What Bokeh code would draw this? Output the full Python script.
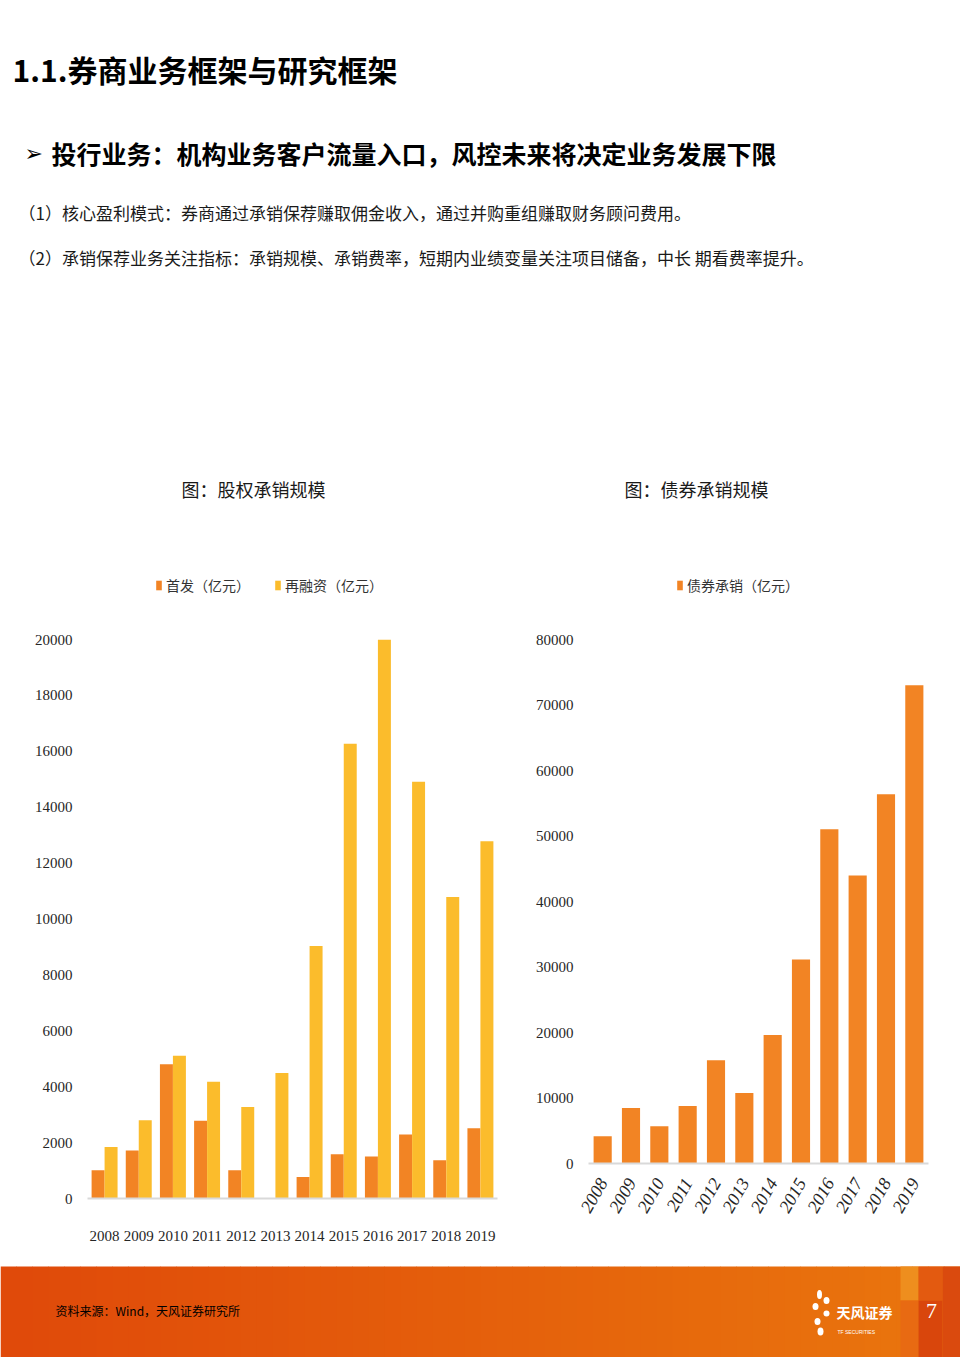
import numpy as np
from bokeh.plotting import figure
from bokeh.models import ColumnDataSource, Range1d, FactorRange, FixedTicker, Legend
from bokeh.transform import dodge
from bokeh.layouts import column, row
from bokeh.embed import file_html
from bokeh.resources import INLINE
from bokeh.core.properties import value

# ---------------- data ----------------
years = ["2008", "2009", "2010", "2011", "2012", "2013",
         "2014", "2015", "2016", "2017", "2018", "2019"]
ipo = [1010, 1720, 4805, 2785, 1010, 0, 765, 1584, 1500, 2293, 1365, 2512]          # 首发（亿元）
refinance = [1843, 2800, 5106, 4177, 3276, 4491, 9038, 16273, 19994, 14908, 10785, 12778]  # 再融资（亿元）
bond = [4174, 8474, 5670, 8785, 15763, 10779, 19626, 31153, 51028, 43988, 56386, 73022]   # 债券承销（亿元）

equity_ticks = [0, 2000, 4000, 6000, 8000, 10000, 12000, 14000, 16000, 18000, 20000]
bond_ticks = [0, 10000, 20000, 30000, 40000, 50000, 60000, 70000, 80000]

page_title = "1.1.券商业务框架与研究框架"
subtitle = "投行业务：机构业务客户流量入口，风控未来将决定业务发展下限"
line1 = "（1）核心盈利模式：券商通过承销保荐赚取佣金收入，通过并购重组赚取财务顾问费用。"
line2 = "（2）承销保荐业务关注指标：承销规模、承销费率，短期内业绩变量关注项目储备，中长 期看费率提升。"
chart1_title = "图：股权承销规模"
chart2_title = "图：债券承销规模"
legend_ipo = "首发（亿元）"
legend_refi = "再融资（亿元）"
legend_bond = "债券承销（亿元）"
source_note = "资料来源：Wind，天风证券研究所"

ORANGE = "#F28424"
YELLOW = "#FBBC2C"
AXIS_GRAY = "#D9D9D9"
LABEL = "#262626"
CJK = value("Noto Sans CJK SC")
SERIF = "Liberation Serif"

# page layout (pixels)
HEAD_H = 540
ROW_H = 722
FOOT_H = 95
LEFT_W = 527
RIGHT_W = 433


def blank(width, height, x0, x1, y_top, y_bottom):
    p = figure(width=width, height=height, x_range=Range1d(x0, x1),
               y_range=Range1d(y_bottom, y_top), output_backend="svg",
               toolbar_location=None, title=None,
               x_axis_location=None, y_axis_location=None,
               min_border=0)
    p.grid.visible = False
    p.outline_line_color = None
    p.frame_align = False
    return p


# ---------------- header (page y 0..540) ----------------
head = blank(960, HEAD_H, 0, 960, 0, HEAD_H)
head.text(x=[12], y=[68], text=[page_title], text_font=CJK, text_font_style="bold",
          text_font_size="30px", text_baseline="middle", text_color="#000000")
head.text(x=[24], y=[153], text=["➢"], text_font=value("DejaVu Sans"),
          text_font_size="22px", text_baseline="middle", text_color="#000000")
head.text(x=[51], y=[152], text=[subtitle], text_font=CJK, text_font_style="bold",
          text_font_size="25px", text_baseline="middle", text_color="#000000")
head.text(x=[18], y=[212], text=[line1], text_font=CJK, text_font_size="17px",
          text_baseline="middle", text_color="#1a1a1a")
head.text(x=[18], y=[257], text=[line2], text_font=CJK, text_font_size="17px",
          text_baseline="middle", text_color="#1a1a1a")
head.text(x=[253, 696], y=[488, 488], text=[chart1_title, chart2_title], text_font=CJK,
          text_font_size="18px", text_align="center", text_baseline="middle",
          text_color="#1a1a1a")


def style_axes(p, rotate=False):
    p.grid.visible = False
    p.outline_line_color = None
    p.frame_align = False
    p.yaxis.axis_line_color = None
    p.yaxis.major_tick_line_color = None
    p.yaxis.minor_tick_line_color = None
    p.yaxis.major_label_text_font = SERIF
    p.yaxis.major_label_text_font_size = "15px"
    p.yaxis.major_label_text_color = LABEL
    p.yaxis.major_label_standoff = 9
    p.xaxis.axis_line_color = AXIS_GRAY
    p.xaxis.axis_line_width = 2
    p.xaxis.major_tick_line_color = None
    p.xaxis.minor_tick_line_color = None
    p.xaxis.major_label_text_font = SERIF
    p.xaxis.major_label_text_color = LABEL
    if rotate:
        p.xaxis.major_label_orientation = np.pi / 3
        p.xaxis.major_label_text_font_style = "italic"
        p.xaxis.major_label_text_font_size = "18px"
        p.xaxis.major_label_standoff = 10
    else:
        p.xaxis.major_label_text_font_size = "15px"
        p.xaxis.major_label_standoff = 26


def make_legend(items, vx, vy):
    return Legend(items=items, orientation="horizontal", location=(vx, vy),
                  padding=0, margin=0, spacing=24, label_standoff=4,
                  glyph_width=7, glyph_height=12,
                  border_line_color=None, background_fill_alpha=0,
                  label_text_font="Noto Sans CJK SC", label_text_font_size="14px",
                  label_text_color="#333333", label_height=17)


FRAME_TOP = 560          # page y of frame top (legend sits inside frame, above bars)

# ---------------- left chart: 股权承销规模 ----------------
L_LEFT, L_RIGHT, L_Y0, L_YMAX = 87, 497, 1198, 639   # page px of axis 0 / 20000
eq_top = 20000 * (L_Y0 - FRAME_TOP) / (L_Y0 - L_YMAX)
src1 = ColumnDataSource(dict(year=years, ipo=ipo, refi=refinance))
p1 = figure(width=LEFT_W, height=ROW_H, x_range=FactorRange(factors=years),
            y_range=Range1d(0, eq_top), output_backend="svg",
            toolbar_location=None, title=None,
            min_border_left=L_LEFT, min_border_right=LEFT_W - L_RIGHT,
            min_border_top=FRAME_TOP - HEAD_H,
            min_border_bottom=HEAD_H + ROW_H - L_Y0)
r1 = p1.vbar(x=dodge("year", -0.19, range=p1.x_range), top="ipo", width=0.38,
             source=src1, fill_color=ORANGE, line_color=None)
r2 = p1.vbar(x=dodge("year", 0.19, range=p1.x_range), top="refi", width=0.38,
             source=src1, fill_color=YELLOW, line_color=None)
p1.yaxis.ticker = FixedTicker(ticks=equity_ticks)
style_axes(p1)
p1.add_layout(make_legend([(legend_ipo, [r1]), (legend_refi, [r2])],
                          155 - L_LEFT, L_Y0 - 578 - 17))

# ---------------- right chart: 债券承销规模 ----------------
R_LEFT, R_RIGHT, R_Y0, R_YMAX = 588, 928, 1163, 639  # page px of axis 0 / 80000
bd_top = 80000 * (R_Y0 - FRAME_TOP) / (R_Y0 - R_YMAX)
src2 = ColumnDataSource(dict(year=years, bond=bond))
p2 = figure(width=RIGHT_W, height=ROW_H, x_range=FactorRange(factors=years),
            y_range=Range1d(0, bd_top), output_backend="svg",
            toolbar_location=None, title=None,
            min_border_left=R_LEFT - LEFT_W, min_border_right=LEFT_W + RIGHT_W - R_RIGHT,
            min_border_top=FRAME_TOP - HEAD_H,
            min_border_bottom=HEAD_H + ROW_H - R_Y0)
r3 = p2.vbar(x="year", top="bond", width=0.64, source=src2,
             fill_color=ORANGE, line_color=None)
p2.yaxis.ticker = FixedTicker(ticks=bond_ticks)
style_axes(p2, rotate=True)
p2.add_layout(make_legend([(legend_bond, [r3])], 676 - R_LEFT, R_Y0 - 578 - 17))

# ---------------- footer (page y 1262..1357) ----------------
F0 = HEAD_H + ROW_H
foot = blank(960, FOOT_H, 0, 960, F0, F0 + FOOT_H)
n = 60
edges = np.linspace(0, 960, n + 1)
c0 = np.array([224, 74, 10])
c1 = np.array([234, 118, 14])
cols = ["#%02x%02x%02x" % tuple((c0 + (c1 - c0) * i / (n - 1)).astype(int)) for i in range(n)]
foot.quad(left=edges[:-1], right=edges[1:] + 0.5, top=[1266] * n, bottom=[1357] * n,
          fill_color=cols, line_color=None)
foot.quad(left=[900, 918, 900, 918, 942], right=[918, 942, 918, 942, 960],
          top=[1266, 1266, 1300, 1300, 1266], bottom=[1300, 1300, 1357, 1357, 1357],
          fill_color=["#EE8E1E", "#E35A10", "#E86A12", "#D9460C", "#DA4A0E"],
          line_color=None)
foot.text(x=[55], y=[1310], text=[source_note], text_font=CJK, text_font_size="12px",
          text_baseline="middle", text_color="#000000")
# logo
foot.ellipse(x=[819, 826, 815, 826, 817, 820], y=[1294, 1300, 1306, 1313, 1321, 1331],
             width=[5, 6, 6, 6, 6, 6], height=[9, 7, 7, 6, 7, 8],
             fill_color="white", line_color=None)
foot.text(x=[836], y=[1311], text=["天风证券"], text_font=CJK, text_font_style="bold",
          text_font_size="14px", text_baseline="middle", text_color="white")
foot.text(x=[837], y=[1331], text=["TF SECURITIES"], text_font=value("Liberation Sans"),
          text_font_size="5px", text_baseline="middle", text_color="white")
foot.text(x=[931], y=[1310], text=["7"], text_font=value("Liberation Sans Narrow"),
          text_font_size="22px", text_align="center", text_baseline="middle",
          text_color="white")

layout = column(head, row(p1, p2, spacing=0), foot, spacing=0)
open("out.html", "w").write(file_html(layout, INLINE))
